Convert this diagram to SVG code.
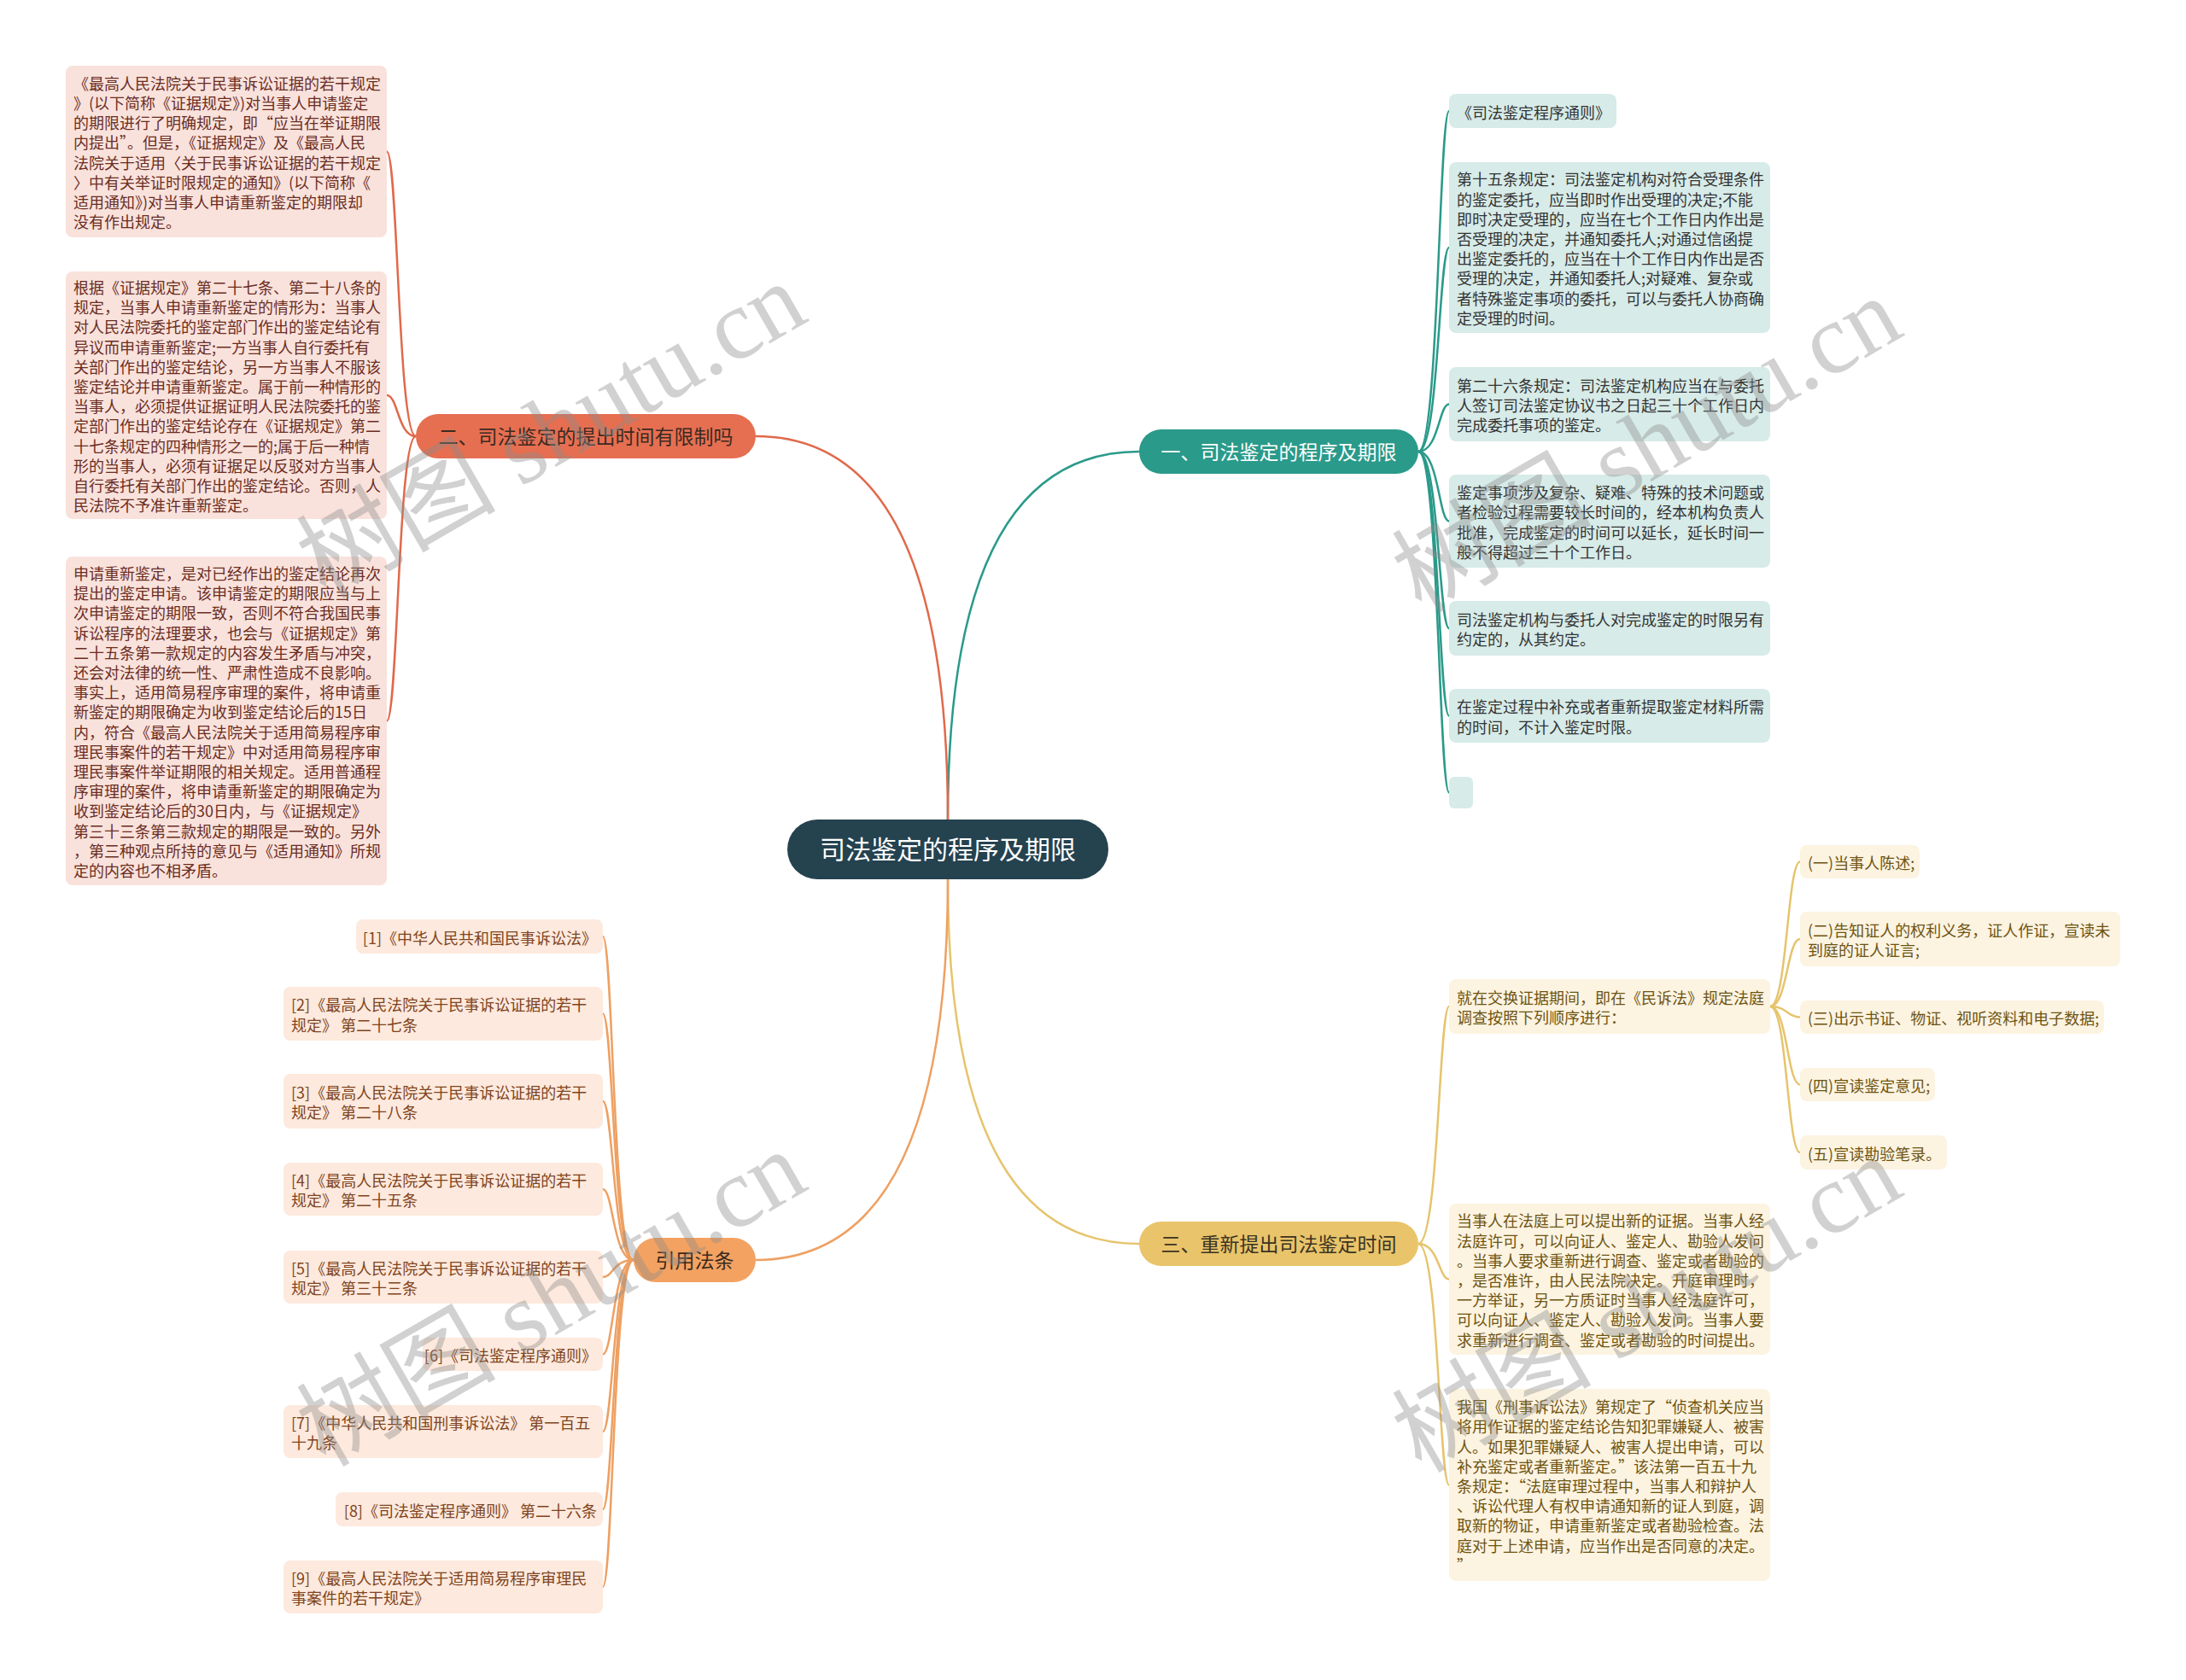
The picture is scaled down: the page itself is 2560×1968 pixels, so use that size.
<svg xmlns="http://www.w3.org/2000/svg" width="2560" height="1968" viewBox="0 0 2560 1968">
<style>
text{font-family:"Noto Sans CJK SC","Noto Sans",sans-serif;}
.t{font-size:18px;}
.b{font-size:23px;text-anchor:middle;}
.tl{fill:none;stroke:#2a9a8a;stroke-width:2.5;}
.rl{fill:none;stroke:#e0694b;stroke-width:2.5;}
.yl{fill:none;stroke:#e6c46c;stroke-width:2.5;}
.ol{fill:none;stroke:#eea062;stroke-width:2.5;}
.tb{fill:#d7ebe8;}
.rb{fill:#f9e2dc;}
.yb{fill:#fcf3e1;}
.ob{fill:#fde9dd;}
.tt{fill:#333333;}
.rt{fill:#6b2d1f;}
.yt{fill:#6e5310;}
.ot{fill:#7f4420;}
.wm{font-family:"Liberation Serif","Noto Sans CJK SC",serif;font-size:117px;fill:#8c8c8c;fill-opacity:0.4;text-anchor:middle;}
</style>
<rect x="0" y="0" width="2560" height="1968" fill="#ffffff"/>

<g id="connectors">
<path class="tl" d="M1110,960 Q1110,529 1334,529" stroke-width="3"/>
<path class="rl" d="M1110,960 Q1110,511 885,511" stroke-width="3"/>
<path class="yl" d="M1110,1030 Q1110,1457 1334,1457" stroke-width="3"/>
<path class="ol" d="M1110,1030 Q1110,1476 885,1476" stroke-width="3"/>

<path class="tl" d="M1661,529 C1685,529 1685,130 1697,130"/>
<path class="tl" d="M1661,529 C1685,529 1685,290 1697,290"/>
<path class="tl" d="M1661,529 C1685,529 1685,473.5 1697,473.5"/>
<path class="tl" d="M1661,529 C1685,529 1685,610.5 1697,610.5"/>
<path class="tl" d="M1661,529 C1685,529 1685,736 1697,736"/>
<path class="tl" d="M1661,529 C1685,529 1685,838.5 1697,838.5"/>
<path class="tl" d="M1661,529 C1685,529 1685,928.5 1697,928.5"/>

<path class="rl" d="M487,511 C466,511 466,177.5 453,177.5"/>
<path class="rl" d="M487,511 C466,511 466,463 453,463"/>
<path class="rl" d="M487,511 C466,511 466,844.5 453,844.5"/>

<path class="yl" d="M1661,1457 C1685,1457 1685,1179 1697,1179"/>
<path class="yl" d="M1661,1457 C1685,1457 1685,1498.5 1697,1498.5"/>
<path class="yl" d="M1661,1457 C1685,1457 1685,1739.5 1697,1739.5"/>

<path class="yl" d="M2073,1179 C2093,1179 2093,1009.5 2108,1009.5"/>
<path class="yl" d="M2073,1179 C2093,1179 2093,1100 2108,1100"/>
<path class="yl" d="M2073,1179 C2093,1179 2093,1191.5 2108,1191.5"/>
<path class="yl" d="M2073,1179 C2093,1179 2093,1270.5 2108,1270.5"/>
<path class="yl" d="M2073,1179 C2093,1179 2093,1350 2108,1350"/>

<path class="ol" d="M742,1476 C718,1476 718,1097 706,1097"/>
<path class="ol" d="M742,1476 C718,1476 718,1187.5 706,1187.5"/>
<path class="ol" d="M742,1476 C718,1476 718,1290 706,1290"/>
<path class="ol" d="M742,1476 C718,1476 718,1393 706,1393"/>
<path class="ol" d="M742,1476 C718,1476 718,1496 706,1496"/>
<path class="ol" d="M742,1476 C718,1476 718,1586.5 706,1586.5"/>
<path class="ol" d="M742,1476 C718,1476 718,1677 706,1677"/>
<path class="ol" d="M742,1476 C718,1476 718,1768 706,1768"/>
<path class="ol" d="M742,1476 C718,1476 718,1859 706,1859"/>
</g>

<g id="root">
<rect x="922" y="960" width="376" height="70" rx="35" fill="#25424f"/>
<text x="1110" y="1006" font-size="30" fill="#ffffff" text-anchor="middle">司法鉴定的程序及期限</text>
</g>

<g id="branch1">
<rect x="1334" y="503" width="327" height="52" rx="26" fill="#2a9a8a"/>
<text class="b" x="1497.5" y="537.5" fill="#ffffff">一、司法鉴定的程序及期限</text>
</g>
<g id="branch2">
<rect x="487" y="485" width="398" height="52" rx="26" fill="#e66f51"/>
<text class="b" x="686" y="519.5" fill="#3a2a22">二、司法鉴定的提出时间有限制吗</text>
</g>
<g id="branch3">
<rect x="1334" y="1431" width="327" height="52" rx="26" fill="#e9c46a"/>
<text class="b" x="1497.5" y="1465.5" fill="#3a3322">三、重新提出司法鉴定时间</text>
</g>
<g id="branch4">
<rect x="742" y="1450" width="143" height="52" rx="26" fill="#f3a262"/>
<text class="b" x="813.5" y="1484.5" fill="#3a2a1e">引用法条</text>
</g>

<g id="n1a">
<rect class="tb" x="1697" y="110" width="196" height="40" rx="8"/>
<text class="t tt" x="1706" y="138.5">《司法鉴定程序通则》</text>
</g>
<g id="n1b">
<rect class="tb" x="1697" y="190" width="376" height="200" rx="8"/>
<text class="t tt" x="1706" y="217.3">第十五条规定：司法鉴定机构对符合受理条件</text>
<text class="t tt" x="1706" y="240.5">的鉴定委托，应当即时作出受理的决定;不能</text>
<text class="t tt" x="1706" y="263.7">即时决定受理的，应当在七个工作日内作出是</text>
<text class="t tt" x="1706" y="286.9">否受理的决定，并通知委托人;对通过信函提</text>
<text class="t tt" x="1706" y="310.1">出鉴定委托的，应当在十个工作日内作出是否</text>
<text class="t tt" x="1706" y="333.3">受理的决定，并通知委托人;对疑难、复杂或</text>
<text class="t tt" x="1706" y="356.5">者特殊鉴定事项的委托，可以与委托人协商确</text>
<text class="t tt" x="1706" y="379.7">定受理的时间。</text>
</g>
<g id="n1c">
<rect class="tb" x="1697" y="430" width="376" height="87" rx="8"/>
<text class="t tt" x="1706" y="458.8">第二十六条规定：司法鉴定机构应当在与委托</text>
<text class="t tt" x="1706" y="482">人签订司法鉴定协议书之日起三十个工作日内</text>
<text class="t tt" x="1706" y="505.2">完成委托事项的鉴定。</text>
</g>
<g id="n1d">
<rect class="tb" x="1697" y="556" width="376" height="109" rx="8"/>
<text class="t tt" x="1706" y="584.2">鉴定事项涉及复杂、疑难、特殊的技术问题或</text>
<text class="t tt" x="1706" y="607.4">者检验过程需要较长时间的，经本机构负责人</text>
<text class="t tt" x="1706" y="630.6">批准，完成鉴定的时间可以延长，延长时间一</text>
<text class="t tt" x="1706" y="653.8">般不得超过三十个工作日。</text>
</g>
<g id="n1e">
<rect class="tb" x="1697" y="704" width="376" height="64" rx="8"/>
<text class="t tt" x="1706" y="732.9">司法鉴定机构与委托人对完成鉴定的时限另有</text>
<text class="t tt" x="1706" y="756.1">约定的，从其约定。</text>
</g>
<g id="n1f">
<rect class="tb" x="1697" y="807" width="376" height="63" rx="8"/>
<text class="t tt" x="1706" y="835.4">在鉴定过程中补充或者重新提取鉴定材料所需</text>
<text class="t tt" x="1706" y="858.6">的时间，不计入鉴定时限。</text>
</g>
<g id="n1g">
<rect class="tb" x="1697" y="910" width="28" height="37" rx="6"/>
</g>

<g id="n2a">
<rect class="rb" x="77" y="77" width="376" height="201" rx="8"/>
<text class="t rt" x="86" y="104.8">《最高人民法院关于民事诉讼证据的若干规定</text>
<text class="t rt" x="86" y="128">》(以下简称《证据规定》)对当事人申请鉴定</text>
<text class="t rt" x="86" y="151.2">的期限进行了明确规定，即“应当在举证期限</text>
<text class="t rt" x="86" y="174.4">内提出”。但是，《证据规定》及《最高人民</text>
<text class="t rt" x="86" y="197.6">法院关于适用〈关于民事诉讼证据的若干规定</text>
<text class="t rt" x="86" y="220.8">〉中有关举证时限规定的通知》(以下简称《</text>
<text class="t rt" x="86" y="244">适用通知》)对当事人申请重新鉴定的期限却</text>
<text class="t rt" x="86" y="267.2">没有作出规定。</text>
</g>
<g id="n2b">
<rect class="rb" x="77" y="318" width="376" height="290" rx="8"/>
<text class="t rt" x="86" y="343.9">根据《证据规定》第二十七条、第二十八条的</text>
<text class="t rt" x="86" y="367.1">规定，当事人申请重新鉴定的情形为：当事人</text>
<text class="t rt" x="86" y="390.3">对人民法院委托的鉴定部门作出的鉴定结论有</text>
<text class="t rt" x="86" y="413.5">异议而申请重新鉴定;一方当事人自行委托有</text>
<text class="t rt" x="86" y="436.7">关部门作出的鉴定结论，另一方当事人不服该</text>
<text class="t rt" x="86" y="459.9">鉴定结论并申请重新鉴定。属于前一种情形的</text>
<text class="t rt" x="86" y="483.1">当事人，必须提供证据证明人民法院委托的鉴</text>
<text class="t rt" x="86" y="506.3">定部门作出的鉴定结论存在《证据规定》第二</text>
<text class="t rt" x="86" y="529.5">十七条规定的四种情形之一的;属于后一种情</text>
<text class="t rt" x="86" y="552.7">形的当事人，必须有证据足以反驳对方当事人</text>
<text class="t rt" x="86" y="575.9">自行委托有关部门作出的鉴定结论。否则，人</text>
<text class="t rt" x="86" y="599.1">民法院不予准许重新鉴定。</text>
</g>
<g id="n2c">
<rect class="rb" x="77" y="652" width="376" height="385" rx="8"/>
<text class="t rt" x="86" y="679">申请重新鉴定，是对已经作出的鉴定结论再次</text>
<text class="t rt" x="86" y="702.2">提出的鉴定申请。该申请鉴定的期限应当与上</text>
<text class="t rt" x="86" y="725.4">次申请鉴定的期限一致，否则不符合我国民事</text>
<text class="t rt" x="86" y="748.6">诉讼程序的法理要求，也会与《证据规定》第</text>
<text class="t rt" x="86" y="771.8">二十五条第一款规定的内容发生矛盾与冲突，</text>
<text class="t rt" x="86" y="795">还会对法律的统一性、严肃性造成不良影响。</text>
<text class="t rt" x="86" y="818.2">事实上，适用简易程序审理的案件，将申请重</text>
<text class="t rt" x="86" y="841.4">新鉴定的期限确定为收到鉴定结论后的15日</text>
<text class="t rt" x="86" y="864.6">内，符合《最高人民法院关于适用简易程序审</text>
<text class="t rt" x="86" y="887.8">理民事案件的若干规定》中对适用简易程序审</text>
<text class="t rt" x="86" y="911">理民事案件举证期限的相关规定。适用普通程</text>
<text class="t rt" x="86" y="934.2">序审理的案件，将申请重新鉴定的期限确定为</text>
<text class="t rt" x="86" y="957.4">收到鉴定结论后的30日内，与《证据规定》</text>
<text class="t rt" x="86" y="980.6">第三十三条第三款规定的期限是一致的。另外</text>
<text class="t rt" x="86" y="1003.8">，第三种观点所持的意见与《适用通知》所规</text>
<text class="t rt" x="86" y="1027">定的内容也不相矛盾。</text>
</g>

<g id="n3a">
<rect class="yb" x="1697" y="1147" width="376" height="64" rx="8"/>
<text class="t yt" x="1706" y="1175.9">就在交换证据期间，即在《民诉法》规定法庭</text>
<text class="t yt" x="1706" y="1199.1">调查按照下列顺序进行：</text>
</g>
<g id="n3a1">
<rect class="yb" x="2108" y="990" width="140" height="39" rx="8"/>
<text class="t yt" x="2117" y="1018">(一)当事人陈述;</text>
</g>
<g id="n3a2">
<rect class="yb" x="2108" y="1068" width="375" height="64" rx="8"/>
<text class="t yt" x="2117" y="1096.9">(二)告知证人的权利义务，证人作证，宣读未</text>
<text class="t yt" x="2117" y="1120.1">到庭的证人证言;</text>
</g>
<g id="n3a3">
<rect class="yb" x="2108" y="1172" width="356" height="39" rx="8"/>
<text class="t yt" x="2117" y="1200">(三)出示书证、物证、视听资料和电子数据;</text>
</g>
<g id="n3a4">
<rect class="yb" x="2108" y="1251" width="158" height="39" rx="8"/>
<text class="t yt" x="2117" y="1279">(四)宣读鉴定意见;</text>
</g>
<g id="n3a5">
<rect class="yb" x="2108" y="1330" width="172" height="40" rx="8"/>
<text class="t yt" x="2117" y="1358.5">(五)宣读勘验笔录。</text>
</g>
<g id="n3b">
<rect class="yb" x="1697" y="1410" width="376" height="177" rx="8"/>
<text class="t yt" x="1706" y="1437.4">当事人在法庭上可以提出新的证据。当事人经</text>
<text class="t yt" x="1706" y="1460.6">法庭许可，可以向证人、鉴定人、勘验人发问</text>
<text class="t yt" x="1706" y="1483.8">。当事人要求重新进行调查、鉴定或者勘验的</text>
<text class="t yt" x="1706" y="1507">，是否准许，由人民法院决定。开庭审理时，</text>
<text class="t yt" x="1706" y="1530.2">一方举证，另一方质证时当事人经法庭许可，</text>
<text class="t yt" x="1706" y="1553.4">可以向证人、鉴定人、勘验人发问。当事人要</text>
<text class="t yt" x="1706" y="1576.6">求重新进行调查、鉴定或者勘验的时间提出。</text>
</g>
<g id="n3c">
<rect class="yb" x="1697" y="1627" width="376" height="225" rx="8"/>
<text class="t yt" x="1706" y="1655.2">我国《刑事诉讼法》第规定了“侦查机关应当</text>
<text class="t yt" x="1706" y="1678.4">将用作证据的鉴定结论告知犯罪嫌疑人、被害</text>
<text class="t yt" x="1706" y="1701.6">人。如果犯罪嫌疑人、被害人提出申请，可以</text>
<text class="t yt" x="1706" y="1724.8">补充鉴定或者重新鉴定。”该法第一百五十九</text>
<text class="t yt" x="1706" y="1748">条规定：“法庭审理过程中，当事人和辩护人</text>
<text class="t yt" x="1706" y="1771.2">、诉讼代理人有权申请通知新的证人到庭，调</text>
<text class="t yt" x="1706" y="1794.4">取新的物证，申请重新鉴定或者勘验检查。法</text>
<text class="t yt" x="1706" y="1817.6">庭对于上述申请，应当作出是否同意的决定。</text>
<text class="t yt" x="1706" y="1840.8">”</text>
</g>

<g id="ref1">
<rect class="ob" x="417" y="1077" width="289" height="40" rx="8"/>
<text class="t ot" x="699" y="1105.5" text-anchor="end">[1]《中华人民共和国民事诉讼法》</text>
</g>
<g id="ref2">
<rect class="ob" x="332" y="1156" width="374" height="63" rx="8"/>
<text class="t ot" x="341" y="1184.4">[2]《最高人民法院关于民事诉讼证据的若干</text>
<text class="t ot" x="341" y="1207.6">规定》 第二十七条</text>
</g>
<g id="ref3">
<rect class="ob" x="332" y="1258" width="374" height="64" rx="8"/>
<text class="t ot" x="341" y="1286.9">[3]《最高人民法院关于民事诉讼证据的若干</text>
<text class="t ot" x="341" y="1310.1">规定》 第二十八条</text>
</g>
<g id="ref4">
<rect class="ob" x="332" y="1362" width="374" height="62" rx="8"/>
<text class="t ot" x="341" y="1389.9">[4]《最高人民法院关于民事诉讼证据的若干</text>
<text class="t ot" x="341" y="1413.1">规定》 第二十五条</text>
</g>
<g id="ref5">
<rect class="ob" x="332" y="1465" width="374" height="62" rx="8"/>
<text class="t ot" x="341" y="1492.9">[5]《最高人民法院关于民事诉讼证据的若干</text>
<text class="t ot" x="341" y="1516.1">规定》 第三十三条</text>
</g>
<g id="ref6">
<rect class="ob" x="495" y="1567" width="211" height="39" rx="8"/>
<text class="t ot" x="699" y="1595" text-anchor="end">[6]《司法鉴定程序通则》</text>
</g>
<g id="ref7">
<rect class="ob" x="332" y="1646" width="374" height="62" rx="8"/>
<text class="t ot" x="341" y="1673.9">[7]《中华人民共和国刑事诉讼法》 第一百五</text>
<text class="t ot" x="341" y="1697.1">十九条</text>
</g>
<g id="ref8">
<rect class="ob" x="393" y="1748" width="313" height="40" rx="8"/>
<text class="t ot" x="699" y="1776.5" text-anchor="end">[8]《司法鉴定程序通则》 第二十六条</text>
</g>
<g id="ref9">
<rect class="ob" x="332" y="1828" width="374" height="62" rx="8"/>
<text class="t ot" x="341" y="1855.9">[9]《最高人民法院关于适用简易程序审理民</text>
<text class="t ot" x="341" y="1879.1">事案件的若干规定》</text>
</g>

<g id="watermarks">
<text class="wm" transform="translate(645,503) rotate(-30)" x="0" y="41">树图 shutu.cn</text>
<text class="wm" transform="translate(1928,520) rotate(-30)" x="0" y="41">树图 shutu.cn</text>
<text class="wm" transform="translate(645,1520) rotate(-30)" x="0" y="41">树图 shutu.cn</text>
<text class="wm" transform="translate(1928,1527) rotate(-30)" x="0" y="41">树图 shutu.cn</text>
</g>
</svg>
